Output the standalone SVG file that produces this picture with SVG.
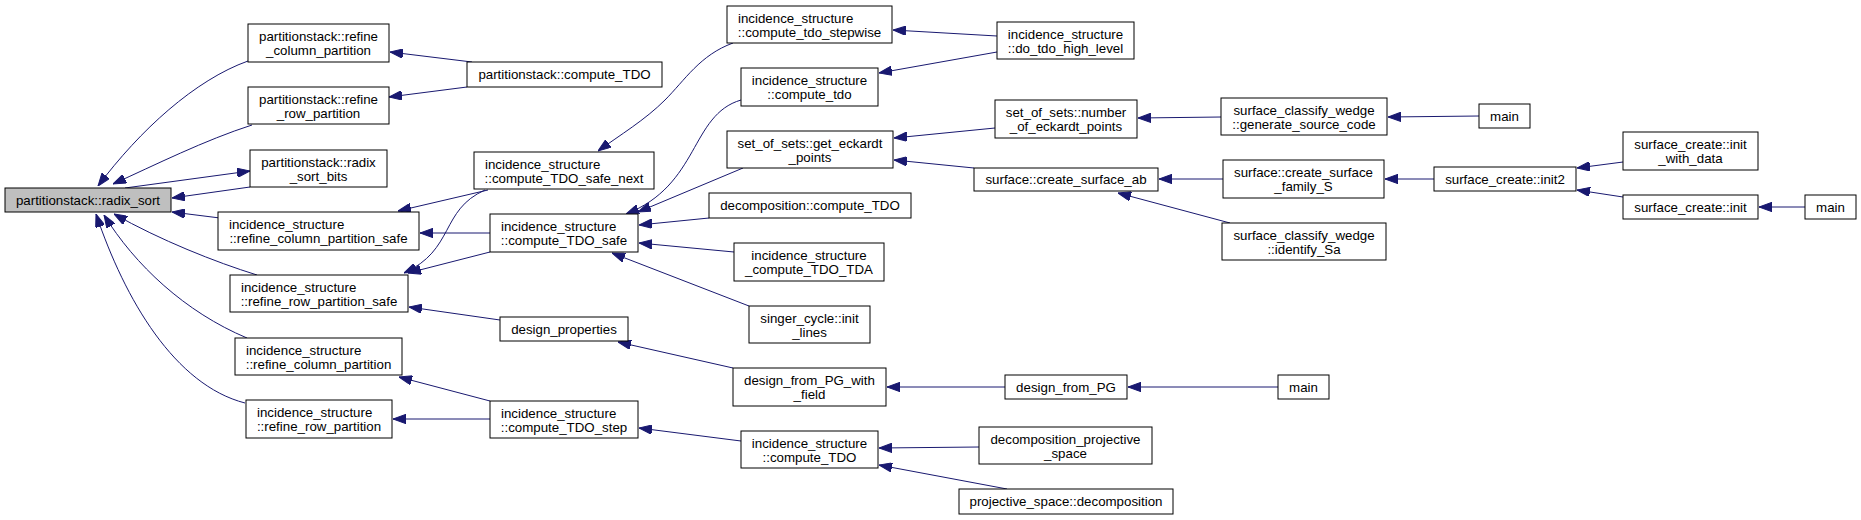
<svg xmlns="http://www.w3.org/2000/svg" width="1861" height="520" viewBox="0 0 1861 520">
<style>
.n rect{fill:#fff;stroke:#000;stroke-width:1}
.n.root rect{fill:#bfbfbf}
text{font-family:"Liberation Sans",Arial,Helvetica,sans-serif;font-size:13.3px;fill:#000}
.m{text-anchor:middle}
.s{text-anchor:start}
#edges path{fill:none;stroke:#191970;stroke-width:1;marker-end:url(#ah)}
</style>
<defs>
<marker id="ah" markerUnits="userSpaceOnUse" viewBox="0 0 13 9.4" markerWidth="13" markerHeight="9.4" refX="13" refY="4.7" orient="auto">
<path d="M0,0 L13,4.7 L0,9.4 z" fill="#191970" stroke="#191970" stroke-width="1"/>
</marker>
</defs>
<rect width="1861" height="520" fill="#fff"/>
<g id="edges">
<path d="M248,61 C195,80 140,130 98,186"/>
<path d="M252,125 C205,140 155,165 113,184"/>
<path d="M125,188 L250,171"/>
<path d="M250,187 L172,198"/>
<path d="M220,218 L172,212"/>
<path d="M257,275 C215,262 160,240 114,214"/>
<path d="M247,338 C185,312 135,265 104,215"/>
<path d="M245,403 C175,385 125,300 96,214"/>
<path d="M472,62 L390,52"/>
<path d="M467,87 L389,97"/>
<path d="M488,190 L398,211"/>
<path d="M485,190 C440,210 455,250 404,273"/>
<path d="M490,233 L420,233"/>
<path d="M490,252 L408,273"/>
<path d="M733,43 C700,55 685,80 665,100 C645,120 620,135 598,151"/>
<path d="M741,100 C690,115 700,185 626,214"/>
<path d="M743,168 L638,212"/>
<path d="M709,218 L639,225"/>
<path d="M734,252 L639,243"/>
<path d="M749,306 L612,253"/>
<path d="M500,320 L409,307"/>
<path d="M733,368 L618,342"/>
<path d="M490,401 L399,377"/>
<path d="M490,419 L393,419"/>
<path d="M741,441 L639,428"/>
<path d="M997,36 L893,30"/>
<path d="M997,52 L879,73"/>
<path d="M995,128 L894,138"/>
<path d="M974,168 L894,160"/>
<path d="M1221,117 L1138,118"/>
<path d="M1223,179 L1159,179"/>
<path d="M1230,223 L1118,193"/>
<path d="M1479,116 L1388,117"/>
<path d="M1434,179 L1385,179"/>
<path d="M1623,162 L1577,168"/>
<path d="M1623,197 L1577,190"/>
<path d="M1805,207 L1759,207"/>
<path d="M1005,387 L887,387"/>
<path d="M1278,387 L1128,387"/>
<path d="M979,447 L879,448"/>
<path d="M1007,489 L879,465"/>
</g>
<g id="n0" class="n root"><rect x="5" y="188" width="166" height="24"/><text class="m" x="88" y="205">partitionstack::radix_sort</text></g>
<g id="n1" class="n"><rect x="248" y="24" width="141" height="38"/><text class="m" x="318.5" y="41">partitionstack::refine</text><text class="m" x="318.5" y="55">_column_partition</text></g>
<g id="n2" class="n"><rect x="248" y="87" width="141" height="37"/><text class="m" x="318.5" y="104">partitionstack::refine</text><text class="m" x="318.5" y="118">_row_partition</text></g>
<g id="n3" class="n"><rect x="250" y="150" width="137" height="37"/><text class="m" x="318.5" y="167">partitionstack::radix</text><text class="m" x="318.5" y="181">_sort_bits</text></g>
<g id="n4" class="n"><rect x="218" y="212" width="201" height="38"/><text class="s" x="229" y="229">incidence_structure</text><text class="m" x="318.5" y="243">::refine_column_partition_safe</text></g>
<g id="n5" class="n"><rect x="230" y="275" width="178" height="37"/><text class="s" x="241" y="292">incidence_structure</text><text class="m" x="319" y="306">::refine_row_partition_safe</text></g>
<g id="n6" class="n"><rect x="235" y="338" width="167" height="37"/><text class="s" x="246" y="355">incidence_structure</text><text class="m" x="318.5" y="369">::refine_column_partition</text></g>
<g id="n7" class="n"><rect x="246" y="400" width="146" height="38"/><text class="s" x="257" y="417">incidence_structure</text><text class="m" x="319" y="431">::refine_row_partition</text></g>
<g id="n8" class="n"><rect x="467" y="62" width="195" height="25"/><text class="m" x="564.5" y="79">partitionstack::compute_TDO</text></g>
<g id="n9" class="n"><rect x="474" y="152" width="180" height="37"/><text class="s" x="485" y="169">incidence_structure</text><text class="m" x="564" y="183">::compute_TDO_safe_next</text></g>
<g id="n10" class="n"><rect x="490" y="214" width="148" height="38"/><text class="s" x="501" y="231">incidence_structure</text><text class="m" x="564" y="245">::compute_TDO_safe</text></g>
<g id="n11" class="n"><rect x="500" y="317" width="128" height="24"/><text class="m" x="564" y="334">design_properties</text></g>
<g id="n12" class="n"><rect x="490" y="401" width="148" height="37"/><text class="s" x="501" y="418">incidence_structure</text><text class="m" x="564" y="432">::compute_TDO_step</text></g>
<g id="n13" class="n"><rect x="727" y="6" width="165" height="37"/><text class="s" x="738" y="23">incidence_structure</text><text class="m" x="809.5" y="37">::compute_tdo_stepwise</text></g>
<g id="n14" class="n"><rect x="741" y="68" width="137" height="38"/><text class="m" x="809.5" y="85">incidence_structure</text><text class="m" x="809.5" y="99">::compute_tdo</text></g>
<g id="n15" class="n"><rect x="727" y="131" width="166" height="37"/><text class="m" x="810" y="148">set_of_sets::get_eckardt</text><text class="m" x="810" y="162">_points</text></g>
<g id="n16" class="n"><rect x="709" y="193" width="202" height="25"/><text class="m" x="810" y="210">decomposition::compute_TDO</text></g>
<g id="n17" class="n"><rect x="734" y="243" width="150" height="38"/><text class="m" x="809" y="260">incidence_structure</text><text class="m" x="809" y="274">_compute_TDO_TDA</text></g>
<g id="n18" class="n"><rect x="749" y="306" width="121" height="37"/><text class="m" x="809.5" y="323">singer_cycle::init</text><text class="m" x="809.5" y="337">_lines</text></g>
<g id="n19" class="n"><rect x="733" y="368" width="153" height="38"/><text class="m" x="809.5" y="385">design_from_PG_with</text><text class="m" x="809.5" y="399">_field</text></g>
<g id="n20" class="n"><rect x="741" y="431" width="137" height="37"/><text class="m" x="809.5" y="448">incidence_structure</text><text class="m" x="809.5" y="462">::compute_TDO</text></g>
<g id="n21" class="n"><rect x="997" y="22" width="137" height="37"/><text class="m" x="1065.5" y="39">incidence_structure</text><text class="m" x="1065.5" y="53">::do_tdo_high_level</text></g>
<g id="n22" class="n"><rect x="995" y="100" width="142" height="38"/><text class="m" x="1066" y="117">set_of_sets::number</text><text class="m" x="1066" y="131">_of_eckardt_points</text></g>
<g id="n23" class="n"><rect x="974" y="168" width="184" height="23"/><text class="m" x="1066" y="184">surface::create_surface_ab</text></g>
<g id="n24" class="n"><rect x="1005" y="375" width="122" height="24"/><text class="m" x="1066" y="392">design_from_PG</text></g>
<g id="n25" class="n"><rect x="979" y="427" width="173" height="37"/><text class="m" x="1065.5" y="444">decomposition_projective</text><text class="m" x="1065.5" y="458">_space</text></g>
<g id="n26" class="n"><rect x="959" y="489" width="214" height="25"/><text class="m" x="1066" y="506">projective_space::decomposition</text></g>
<g id="n27" class="n"><rect x="1221" y="98" width="166" height="37"/><text class="m" x="1304" y="115">surface_classify_wedge</text><text class="m" x="1304" y="129">::generate_source_code</text></g>
<g id="n28" class="n"><rect x="1479" y="104" width="51" height="24"/><text class="m" x="1504.5" y="121">main</text></g>
<g id="n29" class="n"><rect x="1223" y="160" width="161" height="38"/><text class="m" x="1303.5" y="177">surface::create_surface</text><text class="m" x="1303.5" y="191">_family_S</text></g>
<g id="n30" class="n"><rect x="1434" y="167" width="142" height="24"/><text class="m" x="1505" y="184">surface_create::init2</text></g>
<g id="n31" class="n"><rect x="1222" y="223" width="164" height="37"/><text class="m" x="1304" y="240">surface_classify_wedge</text><text class="m" x="1304" y="254">::identify_Sa</text></g>
<g id="n32" class="n"><rect x="1278" y="375" width="51" height="24"/><text class="m" x="1303.5" y="392">main</text></g>
<g id="n33" class="n"><rect x="1623" y="132" width="135" height="38"/><text class="m" x="1690.5" y="149">surface_create::init</text><text class="m" x="1690.5" y="163">_with_data</text></g>
<g id="n34" class="n"><rect x="1623" y="195" width="135" height="24"/><text class="m" x="1690.5" y="212">surface_create::init</text></g>
<g id="n35" class="n"><rect x="1805" y="195" width="51" height="24"/><text class="m" x="1830.5" y="212">main</text></g>
</svg>
